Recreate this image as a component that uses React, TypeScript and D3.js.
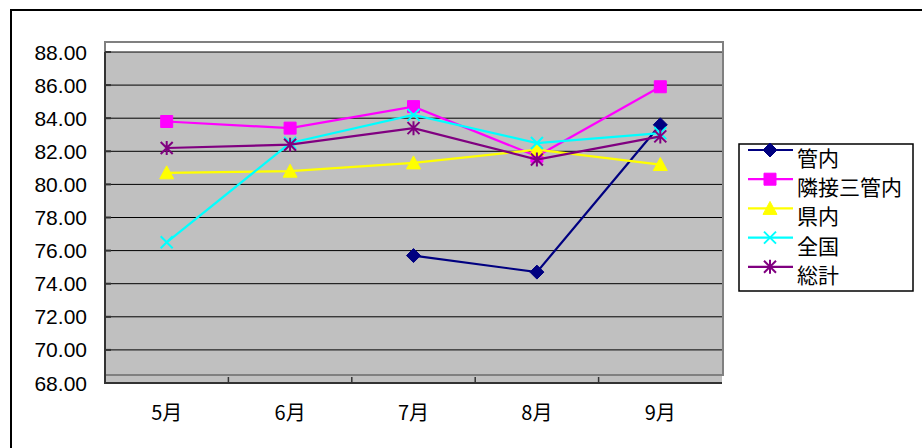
import React, { useEffect, useRef } from 'react';
import * as d3 from 'd3';

const months = ['5月', '6月', '7月', '8月', '9月'];
const kannai = [null, null, 75.7, 74.7, 83.6];
const rinsetsu = [83.8, 83.4, 84.7, 81.7, 85.9];
const kennai = [80.7, 80.8, 81.3, 82.1, 81.2];
const zenkoku = [76.5, 82.5, 84.2, 82.5, 83.1];
const soukei = [82.2, 82.4, 83.4, 81.5, 82.9];
const yTicks = [68, 70, 72, 74, 76, 78, 80, 82, 84, 86, 88];

const seriesList = [
  { name: '管内', values: kannai, color: '#000080', marker: 'diamond' },
  { name: '隣接三管内', values: rinsetsu, color: '#FF00FF', marker: 'square' },
  { name: '県内', values: kennai, color: '#FFFF00', marker: 'triangle' },
  { name: '全国', values: zenkoku, color: '#00FFFF', marker: 'x' },
  { name: '総計', values: soukei, color: '#800080', marker: 'star' },
];

const markerPath = (type: string, cx: number, cy: number) => {
  const r = 6;
  switch (type) {
    case 'diamond':
      return `M${cx},${cy - r - 1}L${cx + r + 1},${cy}L${cx},${cy + r + 1}L${cx - r - 1},${cy}Z`;
    case 'square':
      return `M${cx - r},${cy - r}h${2 * r}v${2 * r}h${-2 * r}Z`;
    case 'triangle':
      return `M${cx},${cy - r - 1}L${cx + r + 1},${cy + r}L${cx - r - 1},${cy + r}Z`;
    case 'x':
      return `M${cx - r},${cy - r}L${cx + r},${cy + r}M${cx + r},${cy - r}L${cx - r},${cy + r}`;
    default:
      return `M${cx - r},${cy - r}L${cx + r},${cy + r}M${cx + r},${cy - r}L${cx - r},${cy + r}M${cx},${cy - r - 1}L${cx},${cy + r + 1}`;
  }
};

const drawMarker = (g, type: string, cx: number, cy: number, color: string) => {
  const filled = type === 'diamond' || type === 'square' || type === 'triangle';
  g.append('path')
    .attr('d', markerPath(type, cx, cy))
    .attr('fill', filled ? color : 'none')
    .attr('stroke', color)
    .attr('stroke-width', filled ? 1 : 2);
};

const LineChart = () => {
  const ref = useRef<SVGSVGElement | null>(null);

  useEffect(() => {
    const svg = d3.select(ref.current);
    svg.selectAll('*').remove();

    const left = 105;
    const right = 722;
    const top = 52;
    const bottom = 383;

    const x = d3.scaleBand().domain(months).range([left, right]).padding(0);
    const y = d3.scaleLinear().domain([68, 88]).range([bottom, top]);
    const cx = (m) => x(m) + x.bandwidth() / 2;

    // outer chart border
    svg.append('rect')
      .attr('x', 11).attr('y', 10).attr('width', 940).attr('height', 460)
      .attr('fill', 'white').attr('stroke', '#000').attr('stroke-width', 2);

    // plot area
    svg.append('rect')
      .attr('x', left).attr('y', top).attr('width', right - left).attr('height', bottom - top)
      .attr('fill', '#C0C0C0');
    svg.append('rect')
      .attr('x', left).attr('y', 42).attr('width', right - left + 1).attr('height', 375 - 42)
      .attr('fill', 'none').attr('stroke', '#808080').attr('stroke-width', 2);

    // gridlines
    svg.append('g')
      .selectAll('line')
      .data(yTicks.filter((t) => t > 68))
      .enter()
      .append('line')
      .attr('x1', left).attr('x2', right)
      .attr('y1', (d) => y(d)).attr('y2', (d) => y(d))
      .attr('stroke', '#000').attr('stroke-width', 1);

    // axes
    svg.append('line')
      .attr('x1', left).attr('x2', left).attr('y1', top).attr('y2', bottom + 1)
      .attr('stroke', '#333').attr('stroke-width', 2);
    svg.append('line')
      .attr('x1', left).attr('x2', right).attr('y1', bottom).attr('y2', bottom)
      .attr('stroke', '#333').attr('stroke-width', 2);

    const yAxis = svg.append('g');
    yAxis.selectAll('line')
      .data(yTicks)
      .enter()
      .append('line')
      .attr('x1', left).attr('x2', left + 6)
      .attr('y1', (d) => y(d)).attr('y2', (d) => y(d))
      .attr('stroke', '#333').attr('stroke-width', 2);
    yAxis.selectAll('text')
      .data(yTicks)
      .enter()
      .append('text')
      .attr('x', 87)
      .attr('y', (d) => y(d))
      .attr('dy', '0.36em')
      .attr('text-anchor', 'end')
      .attr('font-family', '"Liberation Sans Narrow", "Liberation Sans", Arial, sans-serif')
      .attr('font-size', 21)
      .attr('fill', '#000')
      .text((d) => d.toFixed(2));

    const bounds = months.map((m) => x(m)).concat([right]);
    svg.append('g')
      .selectAll('line')
      .data(bounds.slice(1, -1))
      .enter()
      .append('line')
      .attr('x1', (d) => d).attr('x2', (d) => d)
      .attr('y1', bottom - 6).attr('y2', bottom)
      .attr('stroke', '#333').attr('stroke-width', 1.5);

    svg.append('g')
      .selectAll('text')
      .data(months)
      .enter()
      .append('text')
      .attr('x', (d) => cx(d))
      .attr('y', 420)
      .attr('text-anchor', 'middle')
      .attr('font-family', '"Liberation Sans Narrow", "Noto Sans CJK JP", sans-serif')
      .attr('font-size', 20)
      .attr('fill', '#000')
      .text((d) => d);

    // series
    const line = d3.line<any>()
      .defined((d) => d.v != null)
      .x((d) => cx(d.m))
      .y((d) => y(d.v));

    seriesList.forEach((s) => {
      const pts = months.map((m, i) => ({ m, v: s.values[i] }));
      const g = svg.append('g');
      g.append('path')
        .attr('d', line(pts))
        .attr('fill', 'none')
        .attr('stroke', s.color)
        .attr('stroke-width', 2.2);
      pts.filter((p) => p.v != null).forEach((p) => drawMarker(g, s.marker, cx(p.m), y(p.v), s.color));
    });

    // legend
    const lg = svg.append('g');
    lg.append('rect')
      .attr('x', 739).attr('y', 144).attr('width', 174).attr('height', 147)
      .attr('fill', 'white').attr('stroke', '#000').attr('stroke-width', 1.5);
    seriesList.forEach((s, i) => {
      const ry = 150 + i * 29.2;
      lg.append('line')
        .attr('x1', 748).attr('x2', 793).attr('y1', ry).attr('y2', ry)
        .attr('stroke', s.color).attr('stroke-width', 2.2);
      drawMarker(lg, s.marker, 770, ry, s.color);
      lg.append('text')
        .attr('x', 797).attr('y', ry + 16)
        .attr('font-family', '"Noto Sans CJK JP", sans-serif')
        .attr('font-size', 21)
        .attr('fill', '#000')
        .text(s.name);
    });
  }, []);

  return (
    <svg
      ref={ref}
      width={922}
      height={448}
      style={{ position: 'absolute', left: 0, top: 0, background: 'white' }}
    />
  );
};

export default function App() {
  return <LineChart />;
}
